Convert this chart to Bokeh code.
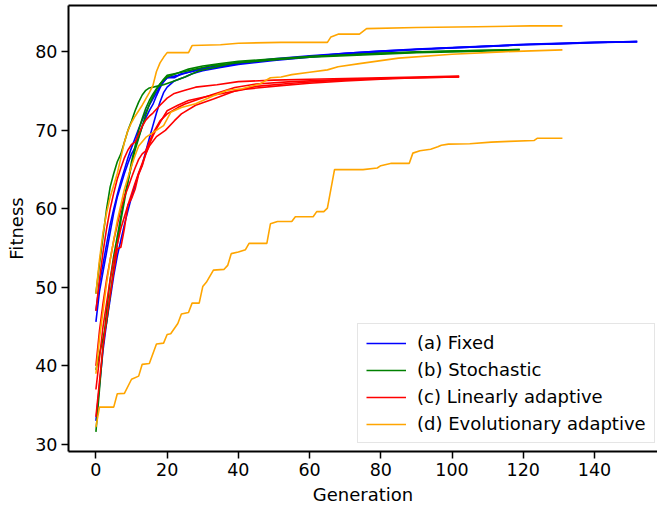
from bokeh.plotting import figure
from bokeh.models import Range1d, LinearAxis, FixedTicker, Legend, LegendItem
from bokeh.embed import file_html
from bokeh.resources import INLINE

# ---------------- data ----------------
x_ticks = [0, 20, 40, 60, 80, 100, 120, 140]
y_ticks = [30, 40, 50, 60, 70, 80]

labels = ["(a) Fixed", "(b) Stochastic", "(c) Linearly adaptive", "(d) Evolutionary adaptive"]
colors = ["#0000ff", "#008000", "#ff0000", "#ffa500"]

# (a) Fixed
fixed_1_gen = [0, 1, 2, 3, 4, 5, 6, 7, 8, 9, 10, 11, 12, 13, 14, 15, 16, 17, 18, 19, 20, 22, 24, 27, 30, 35, 40, 45, 50, 60, 70, 80, 90, 100, 110, 120, 130, 140, 152]
fixed_1_fit = [45.6, 49.5, 52, 54.5, 57, 59.5, 61.5, 63, 64.5, 65.8, 67, 67.8, 69.2, 70.5, 71.6, 72.5, 73.3, 74.4, 75.4, 76.2, 76.7, 76.7, 77.2, 77.5, 77.8, 78.1, 78.5, 78.8, 79.0, 79.4, 79.8, 80.1, 80.3, 80.5, 80.7, 80.9, 81.0, 81.15, 81.3]
fixed_2_gen = [0, 1, 2, 3, 4, 5, 6, 7, 8, 9, 10, 11, 12, 13, 14, 15, 16, 17, 18, 19, 20, 22, 25, 27, 30, 35, 40, 50, 60, 70, 80, 90, 100, 110, 120, 130, 140, 152]
fixed_2_fit = [33, 37.5, 42, 45.5, 48.5, 51.5, 54, 56, 58, 59.8, 61.5, 63, 64.5, 65.6, 67.3, 69, 70.6, 72.2, 73.6, 74.8, 75.5, 76.3, 76.8, 77.2, 77.6, 78.0, 78.4, 78.9, 79.3, 79.7, 80.0, 80.3, 80.5, 80.7, 80.9, 81.05, 81.2, 81.3]
fixed_3_gen = [0, 1, 2, 3, 4, 5, 6, 7, 8, 9, 10, 11, 12, 13, 14, 15, 16, 17, 18, 19, 20, 23, 26, 30, 35, 40, 50, 60, 70, 80, 90, 100, 110, 120, 130, 140, 152]
fixed_3_fit = [47, 50.5, 53, 55.5, 58, 60, 61.8, 63.5, 65, 66.5, 67.8, 69, 70.2, 71.3, 72.3, 73.2, 74, 74.8, 75.6, 76.2, 76.7, 77.0, 77.4, 77.9, 78.3, 78.6, 79.1, 79.5, 79.8, 80.1, 80.35, 80.55, 80.75, 80.95, 81.1, 81.2, 81.3]

# (b) Stochastic
stoch_1_gen = [0, 1, 2, 3, 4, 5, 6, 7, 8, 9, 10, 11, 12, 13, 14, 15, 17, 19, 22, 25, 29, 35, 39, 50, 60, 70, 80, 90, 100, 110, 119]
stoch_1_fit = [49.2, 53, 56.5, 60, 62.8, 64.5, 66, 67, 68.5, 70, 71.2, 72.5, 73.6, 74.5, 75.1, 75.4, 75.6, 75.8, 76.3, 76.8, 77.6, 78.2, 78.6, 79.0, 79.4, 79.6, 79.8, 79.95, 80.1, 80.2, 80.3]
stoch_2_gen = [0, 1, 2, 3, 4, 5, 6, 7, 8, 9, 10, 11, 12, 13, 14, 15, 16, 17, 18, 19, 20, 23, 26, 30, 35, 40, 50, 60, 70, 80, 90, 100, 110, 119]
stoch_2_fit = [31.6, 37, 42.5, 47, 51, 54, 56.5, 59, 61.5, 63.5, 65.5, 67.5, 69, 70.5, 72, 73.3, 74.3, 75.2, 75.9, 76.4, 76.8, 77.3, 77.8, 78.2, 78.5, 78.8, 79.1, 79.4, 79.6, 79.8, 80.0, 80.1, 80.2, 80.3]
stoch_3_gen = [0, 1, 2, 3, 4, 5, 6, 7, 8, 9, 10, 11, 12, 13, 14, 15, 16, 17, 18, 19, 20, 24, 28, 32, 40, 50, 60, 70, 80, 90, 100, 110, 119]
stoch_3_fit = [39.5, 41.5, 43.5, 45.5, 49, 52.5, 55.5, 58.5, 61, 63.5, 66, 68, 70, 71.5, 72.8, 73.8, 74.6, 75.3, 75.9, 76.5, 77.0, 77.4, 77.8, 78.2, 78.6, 79.0, 79.3, 79.5, 79.7, 79.9, 80.0, 80.1, 80.2]

# (c) Linearly adaptive
lin_1_gen = [0, 1, 2, 3, 4, 5, 6, 7, 8, 9, 10, 11, 12, 13, 14, 15, 16, 18, 20, 22, 25, 28, 34, 40, 50, 60, 70, 80, 90, 102]
lin_1_fit = [47.0, 51, 54.5, 57.5, 60, 62, 63.8, 65.2, 66.5, 67.5, 68.2, 68.5, 69.5, 70.5, 71.3, 71.8, 72.2, 73.2, 74.1, 74.7, 75.1, 75.5, 75.8, 76.2, 76.4, 76.5, 76.6, 76.7, 76.8, 76.9]
lin_2_gen = [0, 1, 2, 3, 4, 5, 6, 7, 8, 9, 10, 11, 12, 13, 14, 15, 16, 18, 20, 23, 25, 29, 33, 39, 45, 55, 65, 80, 102]
lin_2_fit = [40, 44.5, 48, 51, 53.5, 56, 58, 60, 61.5, 62.7, 64, 65.2, 66.3, 67, 67.4, 68.5, 69.6, 71.2, 72.1, 72.9, 73.35, 74, 74.6, 75.45, 75.9, 76.2, 76.4, 76.6, 76.85]
lin_3_gen = [0, 1, 2, 3, 4, 5, 6, 7, 8, 9, 10, 11, 12, 13, 14, 15, 17, 19.5, 22, 24, 28, 33, 39, 45, 55, 65, 80, 102]
lin_3_fit = [37, 41, 45, 48, 51, 53.5, 55.5, 57.5, 59, 60.5, 61.9, 63.3, 64.6, 65.8, 67, 68, 69.2, 70, 71.2, 72.1, 73.2, 74.0, 75.0, 75.6, 76.0, 76.3, 76.6, 76.8]
lin_4_gen = [0, 1, 2, 3, 4, 5, 6, 7, 8, 9, 10, 11, 12, 13, 14, 15, 16, 17, 18, 20, 23, 26, 32, 42, 52, 60, 70, 80, 90, 102]
lin_4_fit = [33.5, 38, 42.5, 46, 49, 52, 54.9, 55.1, 57.5, 60.5, 61.3, 62.5, 64.4, 65.5, 67.0, 68.2, 69.3, 70.2, 71, 72.5, 73.2, 73.8, 74.4, 75.25, 75.7, 76.0, 76.3, 76.5, 76.7, 76.8]

# (d) Evolutionary adaptive
evo_1_gen = [0, 1, 2, 3, 4, 5, 6, 7, 8, 9, 10, 11, 12, 13, 14, 15, 16, 17, 18, 19, 20, 26, 27, 35, 40, 52, 65, 66, 68, 74, 76, 90, 107, 122, 131]
evo_1_fit = [49.2, 53.5, 57, 59.5, 61.5, 63, 64.5, 66.5, 68.5, 70, 71, 71.8, 72.5, 73.2, 74, 74.8, 75.7, 77.5, 78.6, 79.3, 79.9, 79.9, 80.8, 80.9, 81.1, 81.2, 81.2, 81.9, 82.25, 82.25, 82.95, 83.1, 83.2, 83.3, 83.3]
evo_2_gen = [0, 1, 2, 3, 4, 5, 6, 7, 8, 9, 10, 11, 12, 14, 16, 19, 21, 24, 28, 33, 37, 41, 46, 49, 52, 55, 60, 65, 68, 74, 85, 100, 114, 131]
evo_2_fit = [39.0, 43.5, 47, 50.5, 53.5, 56, 58.5, 60.5, 62.5, 64, 65.5, 66.8, 68, 69.1, 69.7, 70.6, 72.3, 72.9, 73.4, 74.4, 75.1, 75.3, 75.9, 76.7, 76.8, 77.1, 77.4, 77.7, 78.1, 78.5, 79.2, 79.7, 80.0, 80.25]
evo_3_gen = [0, 1, 5, 6, 8, 10, 12, 13, 15, 17, 19, 20, 21, 23, 24, 26, 27, 29, 30, 31, 33, 36, 37, 38, 40, 42, 43, 48, 49, 51, 55, 56, 61, 62, 64, 65, 67, 75, 79, 80, 83, 88, 89, 91, 94, 96, 97, 99, 105, 111, 116, 123, 124, 131]
evo_3_fit = [32.2, 34.75, 34.75, 36.45, 36.5, 38.3, 38.7, 40.2, 40.3, 42.8, 42.9, 44.0, 44.1, 45.4, 46.6, 46.8, 48.0, 48.0, 50.1, 50.65, 52.2, 52.3, 52.8, 54.3, 54.5, 54.8, 55.6, 55.6, 58.1, 58.4, 58.4, 59.0, 59.0, 59.65, 59.65, 60.1, 65.0, 65.0, 65.2, 65.5, 65.8, 65.8, 67.1, 67.4, 67.6, 67.9, 68.1, 68.25, 68.3, 68.5, 68.6, 68.7, 69.0, 69.0]

groups = [
    [(fixed_1_gen, fixed_1_fit), (fixed_2_gen, fixed_2_fit), (fixed_3_gen, fixed_3_fit)],
    [(stoch_1_gen, stoch_1_fit), (stoch_2_gen, stoch_2_fit), (stoch_3_gen, stoch_3_fit)],
    [(lin_1_gen, lin_1_fit), (lin_2_gen, lin_2_fit), (lin_3_gen, lin_3_fit), (lin_4_gen, lin_4_fit)],
    [(evo_1_gen, evo_1_fit), (evo_2_gen, evo_2_fit), (evo_3_gen, evo_3_fit)],
]

# ---------------- figure ----------------
FONT = "DejaVu Sans"
p = figure(width=657, height=508, output_backend="svg", toolbar_location=None,
           x_range=Range1d(-7.7, 157.7), y_range=Range1d(29.1, 85.9),
           min_border_left=68, min_border_right=0, min_border_top=5, min_border_bottom=57)
p.background_fill_color = "white"
p.border_fill_color = "white"
p.outline_line_color = None
p.xgrid.visible = False
p.ygrid.visible = False

renderers = []
for runs, col in zip(groups, colors):
    r = p.multi_line(xs=[list(g) for g, f in runs], ys=[list(f) for g, f in runs],
                     line_color=col, line_width=1.6)
    renderers.append(r)

for ax in (p.xaxis[0], p.yaxis[0]):
    ax.axis_line_color = "black"
    ax.axis_line_width = 2
    ax.major_tick_line_color = "black"
    ax.major_tick_line_width = 1.5
    ax.major_tick_out = 7
    ax.major_tick_in = 0
    ax.minor_tick_line_color = None
    ax.major_label_text_font = FONT
    ax.major_label_text_font_size = "17.5px"
    ax.major_label_text_color = "black"
    ax.axis_label_text_font = FONT
    ax.axis_label_text_font_size = "18px"
    ax.axis_label_text_font_style = "normal"
    ax.axis_label_text_color = "black"
    ax.major_label_standoff = 4
    ax.axis_label_standoff = 5

p.xaxis[0].ticker = FixedTicker(ticks=x_ticks)
p.yaxis[0].ticker = FixedTicker(ticks=y_ticks)
p.xaxis[0].axis_label = "Generation"
p.yaxis[0].axis_label = "Fitness"

top = LinearAxis(ticker=FixedTicker(ticks=[]), axis_line_color="black", axis_line_width=2,
                 major_tick_line_color=None, minor_tick_line_color=None,
                 major_label_text_font_size="0px")
p.add_layout(top, "above")

legend = Legend(items=[LegendItem(label=lab, renderers=[r]) for lab, r in zip(labels, renderers)],
                location=(289, 8), orientation="vertical",
                label_text_font=FONT, label_text_font_size="18px", label_text_color="black",
                glyph_width=40, glyph_height=20, label_height=20, label_standoff=11,
                spacing=6, padding=8, margin=0,
                border_line_color="#cccccc", border_line_width=1.2,
                background_fill_color="white", background_fill_alpha=0.9)
p.add_layout(legend, "center")

open("out.html", "w").write(file_html(p, INLINE))
